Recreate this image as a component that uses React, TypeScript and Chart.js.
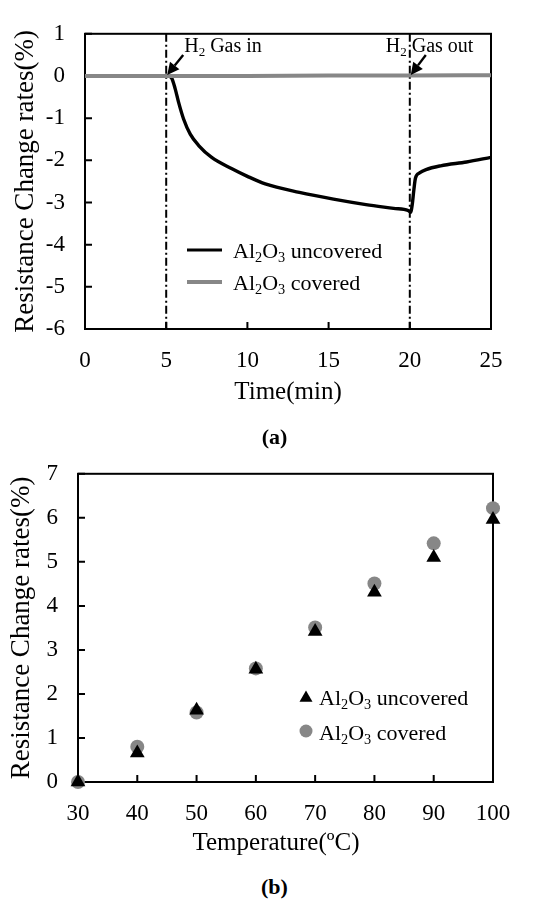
import React, { useEffect, useRef } from 'react';
import { Chart, registerables } from 'chart.js';

Chart.register(...registerables);

const FONT = '"Liberation Serif", "Times New Roman", Times, serif';
const GRAY = '#878787';

// ---------- Chart (a): resistance change vs time ----------
const timeMinutes = [0, 5, 5.2, 5.35, 5.55, 5.76, 6.07, 6.48, 7.0, 7.8, 9.05, 10.0, 11.1, 13.2, 15.3, 17.3, 19.0, 19.9, 20.05, 20.15, 20.25, 20.35, 20.6, 21.0, 21.9, 23.5, 25];
const uncoveredRate = [0, 0, -0.01, -0.06, -0.3, -0.62, -1.02, -1.38, -1.65, -1.93, -2.2, -2.38, -2.56, -2.76, -2.92, -3.05, -3.14, -3.19, -3.23, -3.05, -2.7, -2.42, -2.3, -2.22, -2.13, -2.04, -1.93];
const coveredTime = [0, 5, 10, 15, 20, 25];
const coveredRate = [0, 0, 0, 0.01, 0.01, 0.02];
const gasInTime = 5;
const gasOutTime = 20;
const timeAxis = { min: 0, max: 25, step: 5 };
const rateAxisA = { min: -6, max: 1, step: 1 };

// ---------- Chart (b): resistance change vs temperature ----------
const temperatures = [30, 40, 50, 60, 70, 80, 90, 100];
const uncoveredTemp = [0, 0.66, 1.63, 2.56, 3.42, 4.31, 5.1, 5.96];
const coveredTemp = [0, 0.8, 1.58, 2.58, 3.51, 4.51, 5.42, 6.22];
const tempAxis = { min: 30, max: 100, step: 10 };
const rateAxisB = { min: 0, max: 7, step: 1 };
const tempTitle = 'Temperature(ºC)';

type Part = { t: string; sub?: boolean };
const uncoveredLabel: Part[] = [{ t: 'Al' }, { t: '2', sub: true }, { t: 'O' }, { t: '3', sub: true }, { t: ' uncovered' }];
const coveredLabel: Part[] = [{ t: 'Al' }, { t: '2', sub: true }, { t: 'O' }, { t: '3', sub: true }, { t: ' covered' }];
const gasInLabel: Part[] = [{ t: 'H' }, { t: '2', sub: true }, { t: ' Gas in' }];
const gasOutLabel: Part[] = [{ t: 'H' }, { t: '2', sub: true }, { t: ' Gas out' }];

function drawRich(ctx: CanvasRenderingContext2D, parts: Part[], x: number, baseline: number, size: number) {
  let cx = x;
  ctx.textAlign = 'left';
  ctx.textBaseline = 'alphabetic';
  ctx.fillStyle = '#000';
  for (const p of parts) {
    const fs = p.sub ? size * 0.65 : size;
    ctx.font = `${fs}px ${FONT}`;
    ctx.fillText(p.t, cx, p.sub ? baseline + size * 0.22 : baseline);
    cx += ctx.measureText(p.t).width;
  }
}

function drawArrow(ctx: CanvasRenderingContext2D, x0: number, y0: number, x1: number, y1: number) {
  const ang = Math.atan2(y1 - y0, x1 - x0);
  const head = 12;
  const hw = 6;
  const bx = x1 - head * Math.cos(ang);
  const by = y1 - head * Math.sin(ang);
  ctx.strokeStyle = '#000';
  ctx.fillStyle = '#000';
  ctx.lineWidth = 2.4;
  ctx.beginPath();
  ctx.moveTo(x0, y0);
  ctx.lineTo(bx, by);
  ctx.stroke();
  ctx.beginPath();
  ctx.moveTo(x1, y1);
  ctx.lineTo(bx + hw * Math.sin(ang), by - hw * Math.cos(ang));
  ctx.lineTo(bx - hw * Math.sin(ang), by + hw * Math.cos(ang));
  ctx.closePath();
  ctx.fill();
}

function drawFrame(chart: any) {
  const { ctx, chartArea: a, scales } = chart;
  const x = scales.x;
  const y = scales.y;
  ctx.save();
  ctx.strokeStyle = '#000';
  ctx.lineWidth = 2;
  ctx.setLineDash([]);
  ctx.strokeRect(a.left, a.top, a.right - a.left, a.bottom - a.top);
  ctx.beginPath();
  for (const t of x.ticks) {
    const px = x.getPixelForValue(t.value);
    ctx.moveTo(px, a.bottom);
    ctx.lineTo(px, a.bottom - 7);
  }
  for (const t of y.ticks) {
    const py = y.getPixelForValue(t.value);
    ctx.moveTo(a.left, py);
    ctx.lineTo(a.left + 7, py);
  }
  ctx.stroke();
  ctx.restore();
}

const pluginA = {
  id: 'decorA',
  beforeDatasetsDraw(chart: any) {
    const { ctx, chartArea: a, scales } = chart;
    ctx.save();
    ctx.strokeStyle = '#000';
    ctx.lineWidth = 2;
    ctx.setLineDash([8, 3, 2, 3]);
    for (const t of [gasInTime, gasOutTime]) {
      const px = scales.x.getPixelForValue(t);
      ctx.beginPath();
      ctx.moveTo(px, a.top);
      ctx.lineTo(px, a.bottom);
      ctx.stroke();
    }
    ctx.restore();
    drawFrame(chart);
  },
  afterDatasetsDraw(chart: any) {
    const { ctx, scales } = chart;
    ctx.save();
    const py0 = scales.y.getPixelForValue(0);
    const pIn = scales.x.getPixelForValue(gasInTime);
    const pOut = scales.x.getPixelForValue(gasOutTime);
    drawArrow(ctx, pIn + 17, py0 - 21, pIn + 1, py0 - 1);
    drawArrow(ctx, pOut + 16, py0 - 21, pOut + 1, py0 - 1);
    drawRich(ctx, gasInLabel, pIn + 18, py0 - 24, 20);
    drawRich(ctx, gasOutLabel, pOut - 24, py0 - 24, 20);
    // legend
    const rows = [
      { parts: uncoveredLabel, color: '#000', w: 3.2, y: 250 },
      { parts: coveredLabel, color: GRAY, w: 4, y: 282 },
    ];
    for (const r of rows) {
      ctx.strokeStyle = r.color;
      ctx.lineWidth = r.w;
      ctx.beginPath();
      ctx.moveTo(187, r.y);
      ctx.lineTo(222, r.y);
      ctx.stroke();
      drawRich(ctx, r.parts, 233, r.y + 7.5, 22);
    }
    ctx.restore();
  },
};

const pluginB = {
  id: 'decorB',
  beforeDatasetsDraw(chart: any) {
    drawFrame(chart);
  },
  afterDatasetsDraw(chart: any) {
    const { ctx, chartArea: a } = chart;
    ctx.save();
    // x-axis title (offset slightly left of plot centre, as in the original)
    ctx.fillStyle = '#000';
    ctx.font = `25px ${FONT}`;
    ctx.textAlign = 'center';
    ctx.textBaseline = 'middle';
    ctx.fillText(tempTitle, 276, a.bottom + 61);
    // legend
    const mx = 306;
    const y1 = 256;
    const y2 = 291;
    ctx.fillStyle = '#000';
    const r = 7.5;
    ctx.beginPath();
    ctx.moveTo(mx, y1 - r * 0.75);
    ctx.lineTo(mx + r * 0.866, y1 + r * 0.75);
    ctx.lineTo(mx - r * 0.866, y1 + r * 0.75);
    ctx.closePath();
    ctx.fill();
    ctx.fillStyle = GRAY;
    ctx.beginPath();
    ctx.arc(mx, y2, 6.5, 0, Math.PI * 2);
    ctx.fill();
    drawRich(ctx, uncoveredLabel, 319, y1 + 8.5, 22);
    drawRich(ctx, coveredLabel, 319, y2 + 8.5, 22);
    ctx.restore();
  },
};

const tickFont = { family: FONT, size: 23 };
const titleFont = { family: FONT, size: 25 };
const yTitleFont = { family: FONT, size: 27 };

function ChartA() {
  const ref = useRef<HTMLCanvasElement>(null);
  useEffect(() => {
    if (!ref.current) return;
    const chart = new Chart(ref.current, {
      type: 'line',
      data: {
        datasets: [
          {
            label: 'Al2O3 covered',
            data: coveredTime.map((t, i) => ({ x: t, y: coveredRate[i] })),
            borderColor: GRAY,
            borderWidth: 4,
            pointRadius: 0,
            cubicInterpolationMode: 'monotone',
          },
          {
            label: 'Al2O3 uncovered',
            data: timeMinutes.map((t, i) => ({ x: t, y: uncoveredRate[i] })),
            borderColor: '#000',
            borderWidth: 3.4,
            pointRadius: 0,
            cubicInterpolationMode: 'monotone',
          },
        ],
      },
      options: {
        responsive: false,
        animation: false,
        devicePixelRatio: 1,
        layout: { padding: { left: 0, right: 58, top: 14, bottom: 0 } },
        plugins: { legend: { display: false }, tooltip: { enabled: false } },
        scales: {
          x: {
            type: 'linear',
            min: timeAxis.min,
            max: timeAxis.max,
            ticks: { stepSize: timeAxis.step, padding: 18, color: '#000', font: tickFont, maxRotation: 0 },
            grid: { display: false, drawTicks: false },
            border: { display: false },
            title: { display: true, text: 'Time(min)', color: '#000', font: titleFont, padding: { top: 0, bottom: 3 } },
            afterFit: (s: any) => { s.height = 81; },
          },
          y: {
            type: 'linear',
            min: rateAxisA.min,
            max: rateAxisA.max,
            ticks: { stepSize: rateAxisA.step, padding: 20, color: '#000', font: tickFont },
            grid: { display: false, drawTicks: false },
            border: { display: false },
            title: { display: true, text: 'Resistance Change rates(%)', color: '#000', font: yTitleFont, padding: { top: 10, bottom: 0 } },
            afterFit: (s: any) => { s.width = 85; },
          },
        },
      },
      plugins: [pluginA],
    } as any);
    return () => chart.destroy();
  }, []);
  return <canvas ref={ref} width={549} height={410} style={{ position: 'absolute', left: 0, top: 0 }} />;
}

function ChartB() {
  const ref = useRef<HTMLCanvasElement>(null);
  useEffect(() => {
    if (!ref.current) return;
    const chart = new Chart(ref.current, {
      type: 'scatter',
      data: {
        datasets: [
          {
            label: 'Al2O3 uncovered',
            data: temperatures.map((t, i) => ({ x: t, y: uncoveredTemp[i] })),
            pointStyle: 'triangle',
            pointRadius: 8.5,
            backgroundColor: '#000',
            borderColor: '#000',
            borderWidth: 0,
            clip: false,
          },
          {
            label: 'Al2O3 covered',
            data: temperatures.map((t, i) => ({ x: t, y: coveredTemp[i] })),
            pointStyle: 'circle',
            pointRadius: 7,
            backgroundColor: GRAY,
            borderColor: GRAY,
            borderWidth: 0,
            clip: false,
          },
        ],
      },
      options: {
        responsive: false,
        animation: false,
        devicePixelRatio: 1,
        layout: { padding: { left: 0, right: 56, top: 28, bottom: 0 } },
        plugins: { legend: { display: false }, tooltip: { enabled: false } },
        scales: {
          x: {
            type: 'linear',
            min: tempAxis.min,
            max: tempAxis.max,
            ticks: { stepSize: tempAxis.step, padding: 18, color: '#000', font: tickFont, maxRotation: 0 },
            grid: { display: false, drawTicks: false },
            border: { display: false },
            title: { display: false },
            afterFit: (s: any) => { s.height = 78; },
          },
          y: {
            type: 'linear',
            min: rateAxisB.min,
            max: rateAxisB.max,
            ticks: { stepSize: rateAxisB.step, padding: 20, color: '#000', font: tickFont },
            grid: { display: false, drawTicks: false },
            border: { display: false },
            title: { display: true, text: 'Resistance Change rates(%)', color: '#000', font: yTitleFont, padding: { top: 6, bottom: 0 } },
            afterFit: (s: any) => { s.width = 78; },
          },
        },
      },
      plugins: [pluginB],
    } as any);
    return () => chart.destroy();
  }, []);
  return <canvas ref={ref} width={549} height={420} style={{ position: 'absolute', left: 0, top: 440 }} />;
}

const captionStyle: React.CSSProperties = {
  position: 'absolute',
  left: 0,
  width: 549,
  textAlign: 'center',
  fontFamily: FONT,
  fontWeight: 'bold',
  fontSize: 22,
  lineHeight: '24px',
  color: '#000',
};

export default function App() {
  return (
    <div style={{ position: 'absolute', left: 0, top: 0, width: 549, height: 904, background: '#fff' }}>
      <ChartA />
      <ChartB />
      <div style={{ ...captionStyle, top: 425 }}>(a)</div>
      <div style={{ ...captionStyle, top: 875 }}>(b)</div>
    </div>
  );
}
